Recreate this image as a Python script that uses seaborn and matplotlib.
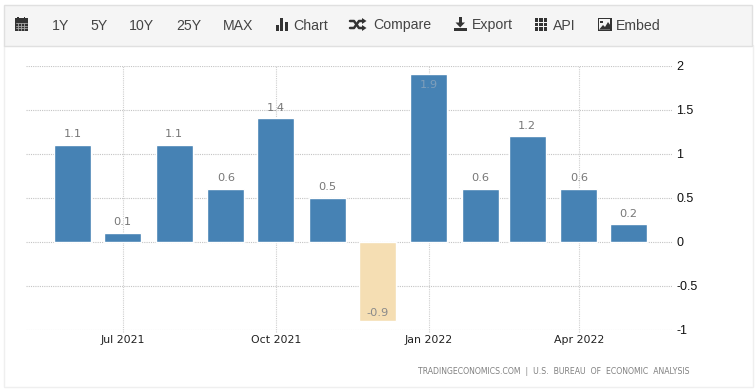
import matplotlib
matplotlib.use("Agg")
import matplotlib.pyplot as plt
import matplotlib.dates as mdates
from matplotlib.patches import Rectangle, Polygon
import numpy as np
import pandas as pd
import seaborn as sns

bar_dates = ["2021-06-01","2021-07-01","2021-08-01","2021-09-01","2021-10-01","2021-11-01",
             "2021-12-01","2022-01-01","2022-02-01","2022-03-01","2022-04-01","2022-05-01"]
values = [1.1, 0.1, 1.1, 0.6, 1.4, 0.5, -0.9, 1.9, 0.6, 1.2, 0.6, 0.2]
x_ticks = ["2021-07-01", "2021-10-01", "2022-01-01", "2022-04-01"]
x_labels = ["Jul 2021", "Oct 2021", "Jan 2022", "Apr 2022"]
y_ticks = [-1, -0.5, 0, 0.5, 1, 1.5, 2]
y_labels = ["-1", "-0.5", "0", "0.5", "1", "1.5", "2"]
menu_items = ["1Y", "5Y", "10Y", "25Y", "MAX", "Chart", "Compare", "Export", "API", "Embed"]
menu_x = [52, 90, 129, 176, 223, 293, 373, 472, 553, 616]
source = "TRADINGECONOMICS.COM  |  U.S.  BUREAU  OF  ECONOMIC  ANALYSIS"

W, H = 756, 391
BLUE, TAN = "#4682b4", "#f5deb3"
sns.set_theme(style="white")
plt.rcParams["font.family"] = ["DejaVu Sans"]

fig = plt.figure(figsize=(W / 100, H / 100), dpi=100, facecolor="white")

# page chrome in pixel coordinates
bg = fig.add_axes([0, 0, 1, 1], zorder=0)
bg.set_xlim(0, W); bg.set_ylim(H, 0); bg.axis("off")
bg.add_patch(Rectangle((3.5, 45), 749, 341.5, fc="white", ec="#efefef", lw=1))
bg.add_patch(Rectangle((4, 4.5), 748, 41, fc="#f5f5f5", ec="#e0e0e0", lw=1))
for s, x in zip(menu_items, menu_x):
    bg.text(x, 25.5, s, fontsize=10.2, family="Liberation Sans", color="#444444", va="center", ha="left")

ic = "#333333"
def rect(x, y, w, h, c=ic):
    bg.add_patch(Rectangle((x, y), w, h, fc=c, ec="none"))
# calendar
rect(14.5, 18, 13, 12.5)
rect(17, 16.5, 1.6, 3); rect(23.5, 16.5, 1.6, 3)
for yy in (23, 25.5, 28):
    bg.plot([15.5, 26.5], [yy, yy], color="#aaaaaa", lw=0.6)
for xx in (18, 21, 24):
    bg.plot([xx, xx], [22.5, 29.5], color="#aaaaaa", lw=0.6)
# bar icon
rect(275.5, 25, 3, 5.5); rect(280, 17.5, 3, 13); rect(284.5, 22, 3, 8.5)
# shuffle icon
bg.plot([350, 354, 359, 363], [21, 21, 28, 28], color=ic, lw=1.8)
bg.plot([350, 354, 359, 363], [28, 28, 21, 21], color=ic, lw=1.8)
bg.add_patch(Polygon([[362, 18], [366.5, 21], [362, 24]], fc=ic, ec="none"))
bg.add_patch(Polygon([[362, 25], [366.5, 28], [362, 31]], fc=ic, ec="none"))
# export icon
rect(458.5, 17, 3.5, 6)
bg.add_patch(Polygon([[455.5, 22.5], [465, 22.5], [460.2, 27.5]], fc=ic, ec="none"))
rect(453.5, 27.5, 13.5, 3.5)
# API grid icon
for i in range(3):
    for j in range(3):
        rect(534.5 + i * 4.5, 18 + j * 4.5, 3.5, 3.5)
# picture icon
rect(597.5, 18, 14, 13)
rect(598.8, 19.3, 11.4, 10.4, "#f5f5f5")
rect(600, 20.5, 2.5, 2.5)
bg.add_patch(Polygon([[599, 29.7], [603, 25], [605, 27], [608, 22], [610.2, 25], [610.2, 29.7]], fc=ic, ec="none"))
bg.text(689, 371, source, fontsize=5.6, color="#808080", ha="right", va="center")

# chart
ax = fig.add_axes([26 / W, 1 - 329.5 / H, 646 / W, 264 / H], zorder=1)
ax.patch.set_alpha(0)
df = pd.DataFrame({"date": mdates.date2num(pd.to_datetime(bar_dates)), "value": values})
df["sign"] = np.where(df["value"] >= 0, "pos", "neg")
for yt in y_ticks:
    ax.axhline(yt, color="#c4c4c4", lw=0.8, ls=(0, (1, 1)), zorder=0)
for xt in mdates.date2num(pd.to_datetime(x_ticks)):
    ax.plot([xt, xt], [-1.03, 2], color="#cfcfcf", lw=0.8, ls=(0, (1, 1)), zorder=0, clip_on=False)
sns.barplot(data=df, x="date", y="value", hue="sign", palette={"pos": BLUE, "neg": TAN},
            native_scale=True, dodge=False, width=0.795, legend=False, saturation=1, ax=ax, zorder=2)
ax.set_xlim(mdates.date2num(pd.Timestamp("2021-05-04")), mdates.date2num(pd.Timestamp("2022-05-27")))
ax.set_ylim(-1, 2)
for s in ax.spines.values():
    s.set_visible(False)
ax.set_xlabel(""); ax.set_ylabel("")
ax.set_xticks(mdates.date2num(pd.to_datetime(x_ticks)))
ax.set_xticklabels(x_labels, fontsize=7.9, color="#222222")
ax.tick_params(axis="x", length=0, pad=4)
ax.yaxis.tick_right()
ax.set_yticks(y_ticks)
ax.set_yticklabels(y_labels, fontsize=9, family="Liberation Sans", color="#111111")
ax.tick_params(axis="y", length=0, pad=3)
for d, v in zip(df["date"], df["value"]):
    if v < 0:
        y, va, c = v + 0.03, "bottom", "#8a8a8a"
    elif v > 1.7:
        y, va, c = v - 0.06, "top", "#7f9fbb"
    else:
        y, va, c = v + 0.06, "bottom", "#777777"
    ax.text(d, y, f"{v:.1f}", ha="center", va=va, fontsize=8.2, color=c, zorder=3)

fig.savefig("out.png", dpi=100)
